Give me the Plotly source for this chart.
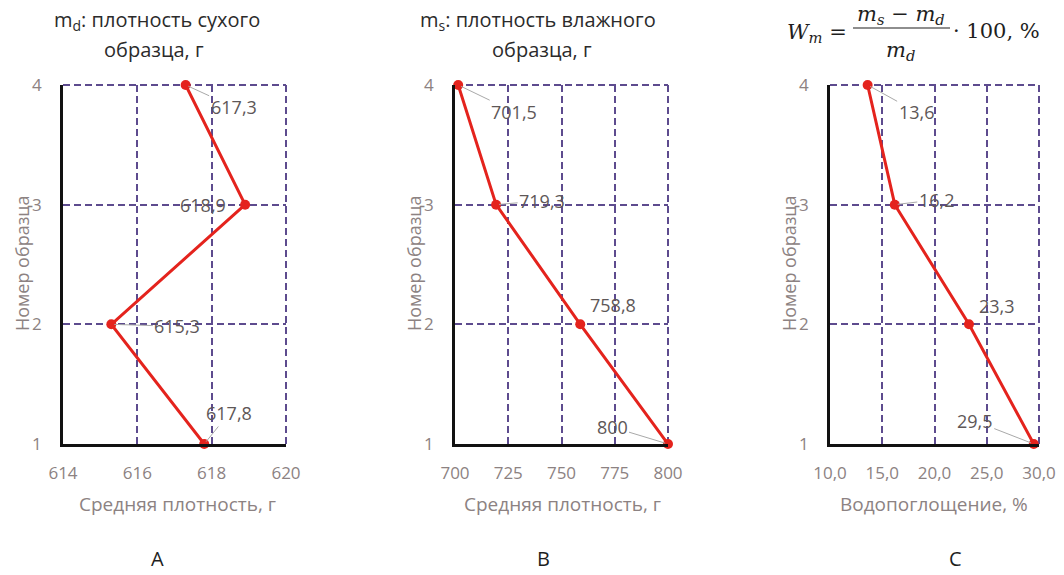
import plotly.graph_objects as go

# Sample numbers (y axis) and measured values for each panel
samples = [4, 3, 2, 1]
dry_mass = [617.3, 618.9, 615.3, 617.8]        # m_d, g
wet_mass = [701.5, 719.3, 758.8, 800.0]        # m_s, g
water_abs = [13.6, 16.2, 23.3, 29.5]           # W_m, %

dry_ticks = [614, 616, 618, 620]
wet_ticks = [700, 725, 750, 775, 800]
abs_ticks = [10, 15, 20, 25, 30]

W, H = 1064, 575
RED = "#e4231d"
GRID = "#5d4b8e"
TICK = "#8c8282"
LABEL = "#5e5757"
FONT = "Open Sans"
DASH = "7px,4px"


def px(x):
    return x / W


def py(y):
    return 1 - y / H


fig = go.Figure()

# (values, ticks, x domain, tick format, label offsets (dx, dy, leader))
panels = [
    (dry_mass, dry_ticks, [px(63), px(286)], "d",
     [(48, 22, True), (-42, 0, False), (66, 2, True), (25, -31, True)]),
    (wet_mass, wet_ticks, [px(455), px(668)], "d",
     [(56, 27, True), (46, -4, True), (33, -19, False), (-56, -17, True)]),
    (water_abs, abs_ticks, [px(830), px(1039)], ".1f",
     [(49, 27, True), (42, -5, True), (28, -18, False), (-59, -23, True)]),
]
xtitles = ["Средняя плотность, г", "Средняя плотность, г", "Водопоглощение, %"]
letters = [("A", 157), ("B", 543), ("C", 955)]
ytitle_x = [22, 414, 789]
xtitle_cx = [177, 562, 934]

ydom = [py(444), py(85)]
annotations = []
shapes = []

for i, (vals, ticks, dom, fmt, offs) in enumerate(panels, start=1):
    xa = "x" if i == 1 else f"x{i}"
    ya = "y" if i == 1 else f"y{i}"
    fig.add_trace(go.Scatter(
        x=vals, y=samples, xaxis=xa, yaxis=ya, mode="lines+markers",
        line=dict(color=RED, width=3), marker=dict(color=RED, size=10),
        cliponaxis=False, showlegend=False, hoverinfo="skip",
    ))
    xkey = "xaxis" if i == 1 else f"xaxis{i}"
    ykey = "yaxis" if i == 1 else f"yaxis{i}"
    fig.update_layout(**{
        xkey: dict(
            domain=dom, range=[ticks[0], ticks[-1]], anchor=ya, tickvals=ticks,
            tickformat=fmt,
            showgrid=True, gridcolor=GRID, griddash=DASH, gridwidth=2,
            showline=True, linecolor="#111111", linewidth=2.5, mirror=False,
            zeroline=False, ticks="", ticklabelstandoff=12, automargin=False,
            tickfont=dict(family=FONT, size=17, color=TICK), fixedrange=True,
        ),
        ykey: dict(
            domain=ydom, range=[min(samples), max(samples)], anchor=xa,
            tickvals=sorted(samples),
            showgrid=True, gridcolor=GRID, griddash=DASH, gridwidth=2,
            showline=True, linecolor="#111111", linewidth=2.5, mirror=False,
            zeroline=False, ticks="", ticklabelstandoff=15, automargin=False,
            tickfont=dict(family=FONT, size=17, color=TICK), fixedrange=True,
        ),
    })
    # dashed grid lines along the top and right edges of the plot area
    shapes.append(dict(type="line", xref="paper", yref="paper",
                       x0=dom[1], x1=dom[1], y0=ydom[0], y1=ydom[1], layer="below",
                       line=dict(color=GRID, width=2, dash=DASH)))
    shapes.append(dict(type="line", xref="paper", yref="paper",
                       x0=dom[0], x1=dom[1], y0=ydom[1], y1=ydom[1], layer="below",
                       line=dict(color=GRID, width=2, dash=DASH)))
    # value labels, some with short leader lines
    for v, s, (dx, dy, lead) in zip(vals, samples, offs):
        txt = f"{v:g}".replace(".", ",")
        if lead:
            annotations.append(dict(
                x=v, y=s, xref=xa, yref=ya, text=txt, showarrow=True,
                ax=dx, ay=dy, arrowhead=0, arrowwidth=1, arrowcolor="#a9a9a9",
                standoff=3, font=dict(family=FONT, size=18, color=LABEL),
            ))
        else:
            annotations.append(dict(
                x=v, y=s, xref=xa, yref=ya, text=txt, showarrow=False,
                xanchor="center", yanchor="middle", xshift=dx, yshift=-dy,
                font=dict(family=FONT, size=18, color=LABEL),
            ))
    annotations.append(dict(
        x=px(xtitle_cx[i - 1]), y=py(504), text=xtitles[i - 1],
        showarrow=False, font=dict(family=FONT, size=19, color=TICK),
    ))
    annotations.append(dict(
        x=px(ytitle_x[i - 1]), y=py(263), text="Номер образца",
        textangle=-90, showarrow=False, font=dict(family=FONT, size=18, color=TICK),
    ))
    letter, lx = letters[i - 1]
    annotations.append(dict(
        x=px(lx), y=py(558), text=letter,
        showarrow=False, font=dict(family=FONT, size=20, color="#1e1e1e"),
    ))

# panel titles
TITLE = dict(family=FONT, size=20, color="#2b2b2b")
annotations += [
    dict(x=px(157), y=py(20), text="m<sub>d</sub>: плотность сухого",
         showarrow=False, font=TITLE),
    dict(x=px(154), y=py(50), text="образца, г", showarrow=False, font=TITLE),
    dict(x=px(538), y=py(20), text="m<sub>s</sub>: плотность влажного",
         showarrow=False, font=TITLE),
    dict(x=px(542), y=py(50), text="образца, г", showarrow=False, font=TITLE),
]

# water absorption formula
SERIF = dict(family="DejaVu Serif", size=21, color="#1e1e1e")
annotations += [
    dict(x=px(817), y=py(33), text="<i>W<sub>m</sub></i> =", showarrow=False, font=SERIF),
    dict(x=px(901), y=py(15), text="<i>m<sub>s</sub></i> − <i>m<sub>d</sub></i>",
         showarrow=False, font=SERIF),
    dict(x=px(900), y=py(51), text="<i>m<sub>d</sub></i>", showarrow=False, font=SERIF),
    dict(x=px(996), y=py(31), text="· 100, %", showarrow=False, font=SERIF),
]
for a in annotations:
    a.setdefault("xref", "paper")
    a.setdefault("yref", "paper")
    a.setdefault("xanchor", "center")
    a.setdefault("yanchor", "middle")

shapes.append(dict(type="line", xref="paper", yref="paper",
                   x0=px(853), x1=px(950), y0=py(28), y1=py(28),
                   line=dict(color="#1e1e1e", width=1.2)))

fig.update_layout(
    width=W, height=H, margin=dict(l=0, r=0, t=0, b=0, autoexpand=False),
    paper_bgcolor="white", plot_bgcolor="white",
    annotations=annotations, shapes=shapes, separators=", ",
)

fig.write_html("out.html", config={"displayModeBar": False})
